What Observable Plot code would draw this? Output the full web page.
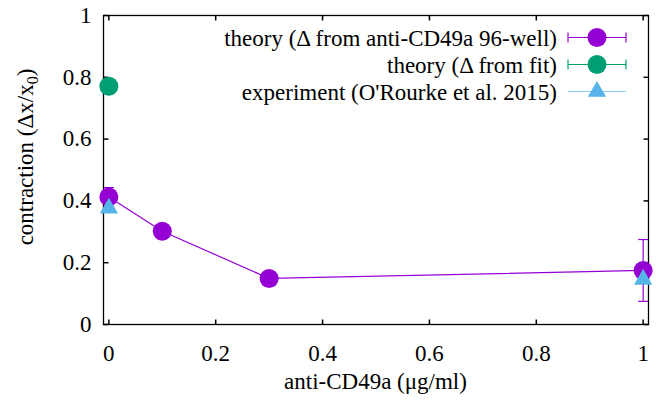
<!DOCTYPE html>
<html><head><meta charset="utf-8">
<script src="https://cdn.jsdelivr.net/npm/d3@7"></script>
<script src="https://cdn.jsdelivr.net/npm/@observablehq/plot@0.6"></script>
<style>body{margin:0;background:#fff} svg{display:block}</style>
</head><body><div id="chart"></div>
<script>
// ---- data ----
const dose96 = [0, 0.1, 0.3, 1];
const contraction96 = [0.413, 0.302, 0.149, 0.175];
const error96 = [0.03, 0.004, 0.004, 0.1];
const doseFit = [0];
const contractionFit = [0.771];
const errorFit = [0.004];
const doseExp = [0, 1];
const contractionExp = [0.376, 0.146];
const xTicks = [0, 0.2, 0.4, 0.6, 0.8, 1];
const xTickLabels = ["0", "0.2", "0.4", "0.6", "0.8", "1"];
const yTicks = [0, 0.2, 0.4, 0.6, 0.8, 1];
const yTickLabels = ["0", "0.2", "0.4", "0.6", "0.8", "1"];
const seriesNames = ["theory (\u0394 from anti-CD49a 96-well)", "theory (\u0394 from fit)", "experiment (O'Rourke et al. 2015)"];
const seriesColors = ["#9400d3", "#009e73", "#56b4e9"];

const theory96 = dose96.map((x, i) => ({x, y: contraction96[i], e: error96[i]}));
const theoryFit = doseFit.map((x, i) => ({x, y: contractionFit[i], e: errorFit[i]}));
const experiment = doseExp.map((x, i) => ({x, y: contractionExp[i]}));

const capH = {draw(c) { c.moveTo(-5, 0); c.lineTo(5, 0); }};
const tickUp = {draw(c) { c.moveTo(0, 0); c.lineTo(0, -5); }};
const tickDown = {draw(c) { c.moveTo(0, 0); c.lineTo(0, 5); }};
const tickRight = {draw(c) { c.moveTo(0, 0); c.lineTo(5, 0); }};
const tickLeft = {draw(c) { c.moveTo(0, 0); c.lineTo(-5, 0); }};

const W = 656, H = 401;
const plot = Plot.plot({
  width: W, height: H,
  marginLeft: 103, marginRight: 8, marginTop: 15, marginBottom: 77,
  style: {fontFamily: "'Liberation Serif', 'Times New Roman', serif", fontSize: "23px", background: "#fff"},
  x: {domain: [-0.01, 1.01]},
  y: {domain: [0, 1]},
  marks: [
    Plot.axisX({ticks: xTicks, tickSize: 0, tickPadding: 20, fontSize: 23, tickFormat: (d, i) => xTickLabels[i], label: null, fill: "#000"}),
    Plot.axisY({ticks: yTicks, tickSize: 0, tickPadding: 12, fontSize: 23, tickFormat: (d, i) => yTickLabels[i], label: null, fill: "#000"}),
    Plot.dot(xTicks, {x: d => d, frameAnchor: "bottom", symbol: tickUp, stroke: "#000", r: 5}),
    Plot.dot(xTicks, {x: d => d, frameAnchor: "top", symbol: tickDown, stroke: "#000", r: 5}),
    Plot.dot(yTicks, {y: d => d, frameAnchor: "left", symbol: tickRight, stroke: "#000", r: 5}),
    Plot.dot(yTicks, {y: d => d, frameAnchor: "right", symbol: tickLeft, stroke: "#000", r: 5}),
    Plot.frame({stroke: "#000", strokeWidth: 1.3}),
    // theory 96-well
    Plot.line(theory96, {x: "x", y: "y", stroke: seriesColors[0], strokeWidth: 1.2}),
    Plot.ruleX(theory96, {x: "x", y1: d => d.y - d.e, y2: d => d.y + d.e, stroke: seriesColors[0], strokeWidth: 1.2}),
    Plot.dot(theory96, {x: "x", y: d => d.y - d.e, symbol: capH, stroke: seriesColors[0], strokeWidth: 1.2}),
    Plot.dot(theory96, {x: "x", y: d => d.y + d.e, symbol: capH, stroke: seriesColors[0], strokeWidth: 1.2}),
    Plot.dot(theory96, {x: "x", y: "y", r: 9.5, fill: seriesColors[0]}),
    // theory fit
    Plot.ruleX(theoryFit, {x: "x", y1: d => d.y - d.e, y2: d => d.y + d.e, stroke: seriesColors[1]}),
    Plot.dot(theoryFit, {x: "x", y: "y", r: 9.5, fill: seriesColors[1]}),
    // experiment
    Plot.dot(experiment, {x: "x", y: "y", r: 6.8, symbol: "triangle", fill: seriesColors[2]})
  ]
});
document.getElementById("chart").appendChild(plot);

// ---- titles and legend ----
const svg = d3.select(plot);
const font = "'Liberation Serif', 'Times New Roman', serif";
const yt = svg.append("text")
  .attr("transform", "translate(33,157) rotate(-90)")
  .attr("text-anchor", "middle").attr("font-family", font).attr("font-size", 23).attr("fill", "#000");
yt.append("tspan").text("contraction (\u0394x/x");
yt.append("tspan").attr("font-size", 16).attr("dy", 5).text("0");
yt.append("tspan").attr("dy", -5).text(")");
svg.append("text").attr("x", 375.5).attr("y", 389).attr("text-anchor", "middle")
  .attr("font-family", font).attr("font-size", 23).attr("fill", "#000").text("anti-CD49a (\u03bcg/ml)");

const rowsY = [37.5, 64.5, 91.5];
const lg = svg.append("g");
seriesNames.forEach((name, i) => {
  const cy = rowsY[i], c = seriesColors[i];
  lg.append("text").attr("x", 557).attr("y", cy + 8).attr("text-anchor", "end")
    .attr("font-family", font).attr("font-size", 23).attr("fill", "#000").text(name);
  lg.append("line").attr("x1", 568).attr("x2", 626).attr("y1", cy).attr("y2", cy)
    .attr("stroke", c).attr("stroke-width", i === 2 ? 1 : 1.2).attr("stroke-opacity", i === 2 ? 0.7 : 1);
  if (i < 2) {
    [568, 626].forEach(x => lg.append("line").attr("x1", x).attr("x2", x).attr("y1", cy - 5).attr("y2", cy + 5)
      .attr("stroke", c).attr("stroke-width", 1.2));
    lg.append("circle").attr("cx", 597).attr("cy", cy).attr("r", 9.5).attr("fill", c);
  } else {
    lg.append("path").attr("transform", `translate(597,${cy})`)
      .attr("d", d3.symbol(d3.symbolTriangle, Math.PI * 6.8 * 6.8)()).attr("fill", c);
  }
});
</script></body></html>
